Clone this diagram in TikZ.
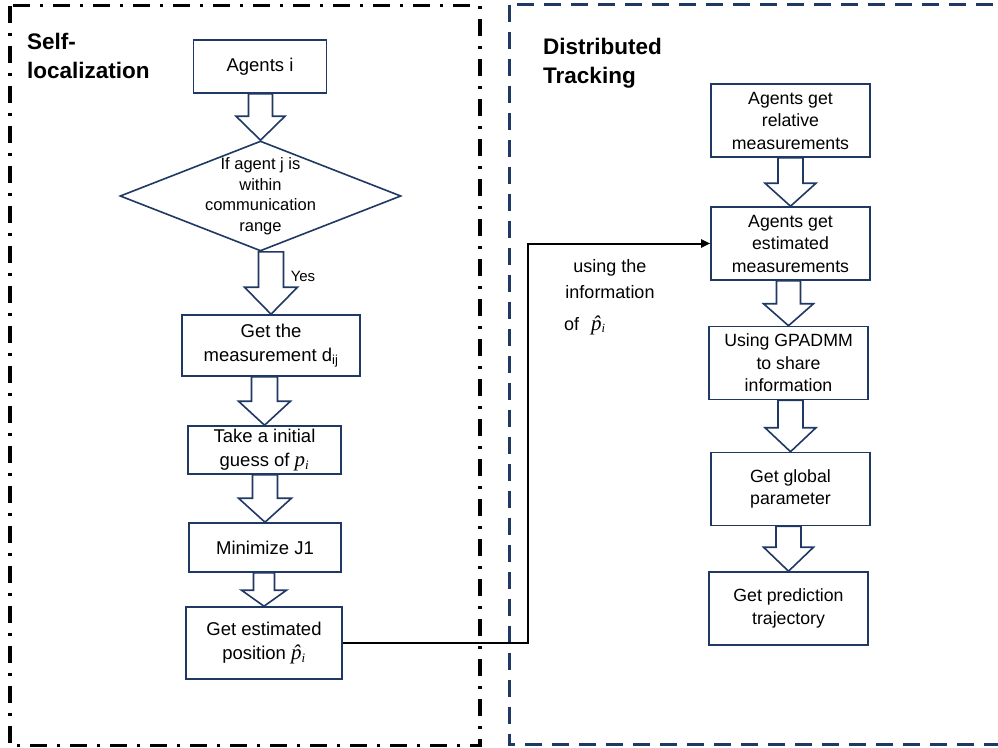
\documentclass[tikz,border=0pt]{standalone}
\usepackage{fontspec}
\setmainfont{Liberation Sans}
\newfontfamily\mathserif{Liberation Serif}
\usepackage{xcolor}
\usepackage{tikz}
\usetikzlibrary{arrows.meta, shapes.geometric, calc}

\definecolor{navy}{HTML}{203864}
\tikzset{
  box/.style={draw=navy, line width=1.6pt, align=center, inner sep=0pt, font=\fontsize{18.5}{24}\selectfont},
  rbox/.style={box, minimum width=159pt, minimum height=73pt, font=\fontsize{17.7}{22.5}\selectfont},
  fatarrow/.style={draw=navy, line width=1.6pt, fill=white, line join=miter},
  link/.style={line width=2pt, -{Triangle[length=9pt,width=8pt]}},
  frametitle/.style={font=\bfseries\fontsize{22.5}{28.5}\selectfont, align=left, anchor=north west, inner sep=0pt}
}
\newcommand\downarrowto[5]{%
  \path[fatarrow] let \p1=(#1.south), \p2=(#2.north) in
    (\x2-#3pt,\y1) -- (\x2-#3pt,\y2+#5pt) -- (\x2-#4pt,\y2+#5pt) -- (\x2,\y2)
    -- (\x2+#4pt,\y2+#5pt) -- (\x2+#3pt,\y2+#5pt) -- (\x2+#3pt,\y1) -- cycle;}
\newcommand\pvar{{\mathserif\itshape\fontsize{21}{24}\selectfont p}\textsubscript{\mathserif\itshape i}}
\newcommand\phat{{\mathserif\itshape\fontsize{21}{24}\selectfont\accent"02C6 p}\textsubscript{\mathserif\itshape i}}

\begin{document}
\begin{tikzpicture}[x=1pt, y=-1pt]
\clip (0,0) rectangle (998,747);
\fill[white] (0,0) rectangle (998,747);
\draw[black, line width=3.5pt, dash pattern=on 17pt off 10pt on 3pt off 10pt] (10,5.5) rectangle (480,745.5);
\draw[navy, line width=3pt, dash pattern=on 17pt off 10pt] (509,4.5) rectangle (1010,744.5);

\node[frametitle] (selftitle) at (27,33) {Self-\\localization};
\node[frametitle] (disttitle) at (543,38) {Distributed\\Tracking};

\node[box, minimum width=133pt, minimum height=53pt] (agents) at (260,66.5) {Agents i};
\node[draw=navy, line width=1.6pt, diamond, minimum width=281pt, minimum height=110pt, inner sep=0pt] (check) at (260.5,196) {};
\node[align=center, font=\fontsize{16.5}{20.5}\selectfont] (checktext) at (check.center) {If agent j is\\within\\communication\\range};
\node[box, minimum width=178pt, minimum height=61pt] (meas) at (271,345.5) {Get the\\measurement d\textsubscript{ij}};
\node[box, minimum width=153pt, minimum height=48pt] (guess) at (264.5,450) {Take a initial\\guess of \pvar};
\node[box, minimum width=152pt, minimum height=49pt] (minj) at (265,547.5) {Minimize J1};
\node[box, minimum width=156pt, minimum height=72pt] (est) at (264,643) {Get estimated\\position \phat};
\node[font=\fontsize{15}{18}\selectfont] (yes) at (303,276) {Yes};

\node[rbox] (rel) at (790.5,120.5) {Agents get\\relative\\measurements};
\node[rbox] (estm) at (790.5,243.5) {Agents get\\estimated\\measurements};
\node[rbox] (share) at (788.5,363) {Using GPADMM\\to share\\information};
\node[rbox] (glob) at (790.5,489) {Get global\\parameter};
\node[rbox] (pred) at (788.5,608.5) {Get prediction\\trajectory};

\downarrowto{agents}{check}{12}{24.5}{24}
\downarrowto{check}{meas}{12.5}{26.5}{27}
\downarrowto{meas}{guess}{13}{26}{24}
\downarrowto{guess}{minj}{12.5}{26.5}{24}
\downarrowto{minj}{est}{10.5}{22.5}{16}
\downarrowto{rel}{estm}{12.5}{25.5}{23}
\downarrowto{estm}{share}{12}{25}{22}
\downarrowto{share}{glob}{12.5}{25.5}{24}
\downarrowto{glob}{pred}{12.5}{25}{24}

\draw[link] (est.east) -- ++(185,0) |- (estm.west);
\node[align=center, font=\fontsize{18}{26}\selectfont] (info) at (610,279) {using the\\information};
\node[anchor=west, inner sep=0pt, font=\fontsize{18}{26}\selectfont] (ofp) at (564,325) {of\hspace{12pt}\phat};
\end{tikzpicture}
\end{document}
